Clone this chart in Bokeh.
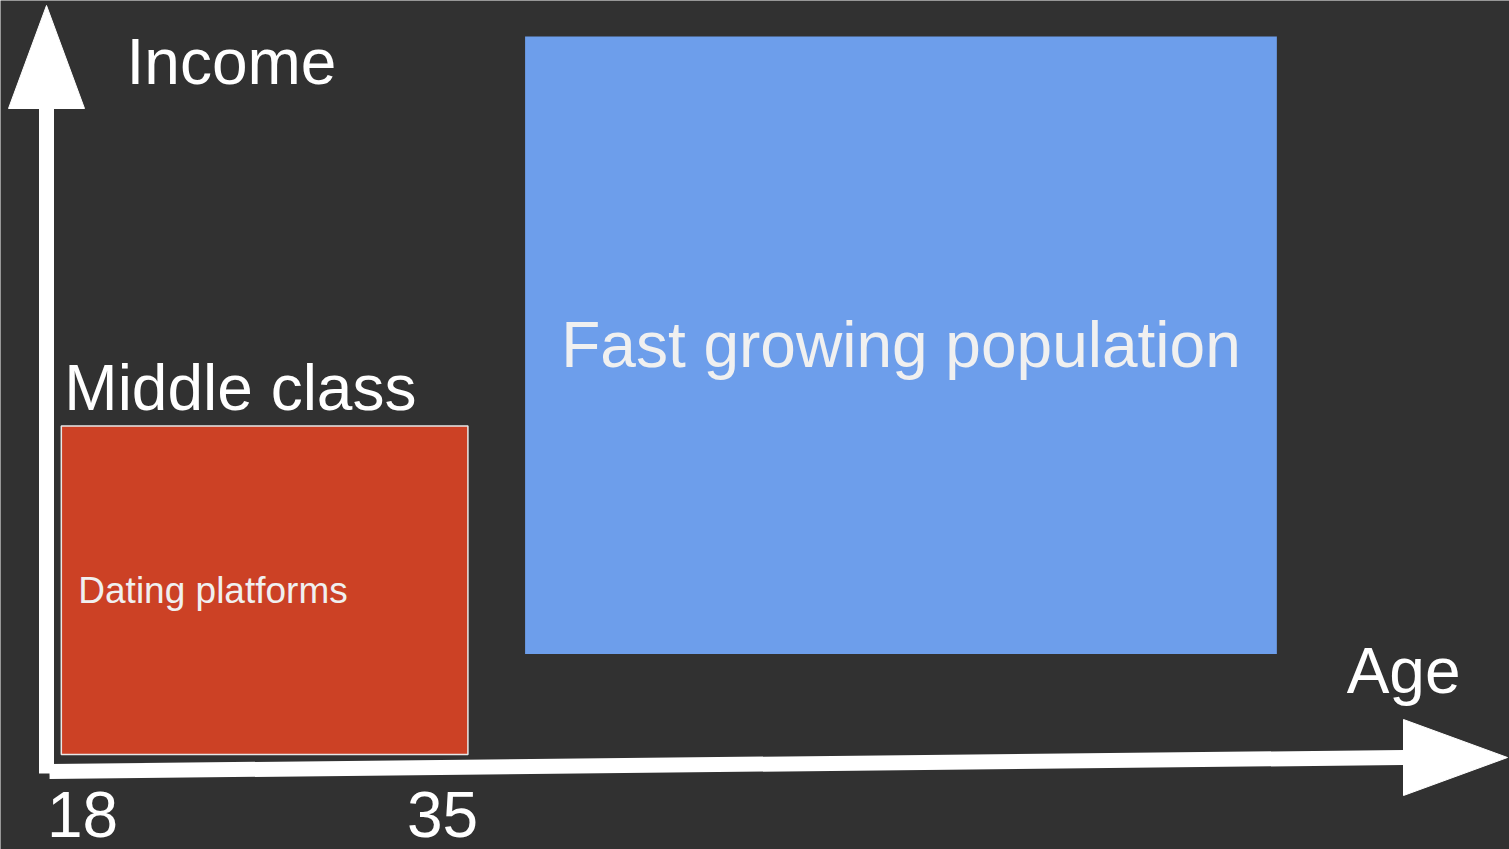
from bokeh.plotting import figure
from bokeh.models import Range1d
from bokeh.core.properties import value
from bokeh.embed import file_html
from bokeh.resources import INLINE

# ---- data ----
categories = ["Dating platforms", "Fast growing population"]
age_start = [17.0, 38.9]
age_end = [36.2, 74.4]
income_low = [2.3, 16.0]
income_high = [47.0, 100.0]
age_ticks = [18, 35]
tick_labels = ["18", "35"]
segment_label = "Middle class"
x_title = "Age"
y_title = "Income"

# ---- scale setup (pixels per unit) ----
W, H = 1509, 849
SX = 360.0 / 17.0          # px per year
X0 = 18 - 82.0 / SX        # age at left edge
SY = 7.35                  # px per income unit
Y_ORIGIN_PX = 771.0
x_end = X0 + W / SX
y_start = -(H - Y_ORIGIN_PX) / SY
y_end = Y_ORIGIN_PX / SY

def dx(px):
    return px / SX

def dy(px):
    return px / SY

BG = "#313131"
FONT = "Liberation Sans"

p = figure(width=W, height=H, x_range=Range1d(X0, x_end), y_range=Range1d(y_start, y_end),
           output_backend="svg", toolbar_location=None, min_border=0,
           x_axis_type=None, y_axis_type=None)
p.grid.visible = False
p.background_fill_color = BG
p.border_fill_color = BG
p.outline_line_color = None

# ---- boxes ----
p.quad(left=[age_start[0]], right=[age_end[0]], bottom=[income_low[0]], top=[income_high[0]],
       fill_color="#cc4125", line_color="#e8e8e8", line_width=1.5)
p.quad(left=[age_start[1]], right=[age_end[1]], bottom=[income_low[1]], top=[income_high[1]],
       fill_color="#6d9eeb", line_color=None)

# ---- axes (arrows) ----
axis_age = X0 + dx(46)
axis_income = 0.0
stem_w = 15
# y axis
y_tip = axis_income + dy(Y_ORIGIN_PX - 5)
y_head_base = y_tip - dy(103)
p.line([axis_age, axis_age], [axis_income - dy(2), y_head_base], line_color="white", line_width=stem_w)
p.patch([axis_age - dx(38), axis_age, axis_age + dx(38)], [y_head_base, y_tip, y_head_base],
        fill_color="white", line_color="white", line_width=1)
# x axis (slightly rising)
x_start_age = axis_age + dx(3)
x_tip = X0 + dx(1507)
x_head_base = x_tip - dx(104)
rise = dy(14)
p.line([x_start_age, x_head_base], [axis_income, axis_income + rise], line_color="white", line_width=stem_w)
p.patch([x_head_base, x_tip, x_head_base],
        [axis_income + rise + dy(38), axis_income + rise, axis_income + rise - dy(38)],
        fill_color="white", line_color="white", line_width=1)

# ---- texts ----
big = "64px"
p.text(x=[axis_age + dx(80)], y=[axis_income + dy(Y_ORIGIN_PX - 61)], text=[y_title],
       text_font=value(FONT), text_font_size=big, text_color="white",
       text_align="left", text_baseline="alphabetic")
p.text(x=[X0 + dx(1460)], y=[axis_income + dy(Y_ORIGIN_PX - 670)], text=[x_title],
       text_font=value(FONT), text_font_size=big, text_color="white",
       text_align="right", text_baseline="alphabetic")
p.text(x=age_ticks, y=[axis_income - dy(43)] * len(age_ticks), text=tick_labels,
       text_font=value(FONT), text_font_size=big, text_color="white",
       text_align="center", text_baseline="alphabetic")
p.text(x=[age_start[0] + dx(3)], y=[income_high[0] + dy(38)], text=[segment_label],
       text_font=value(FONT), text_font_size=big, text_color="white",
       text_align="left", text_baseline="alphabetic")
p.text(x=[age_start[0] + dx(17)], y=[(income_low[0] + income_high[0]) / 2], text=[categories[0]],
       text_font=value(FONT), text_font_size="37px", text_color="#f0f0f0",
       text_align="left", text_baseline="middle")
p.text(x=[(age_start[1] + age_end[1]) / 2], y=[(income_low[1] + income_high[1]) / 2], text=[categories[1]],
       text_font=value(FONT), text_font_size=big, text_color="#f0f0f0",
       text_align="center", text_baseline="middle")

open("out.html", "w").write(file_html(p, INLINE))
